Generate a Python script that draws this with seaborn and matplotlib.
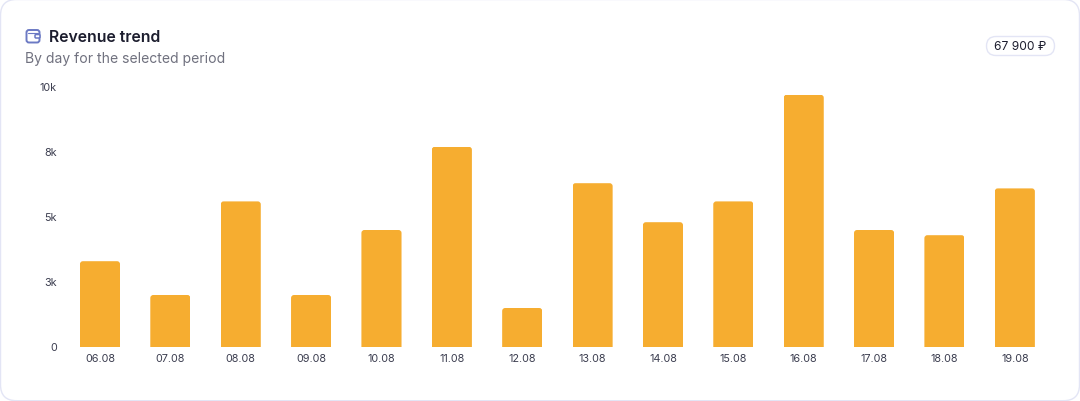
import matplotlib
matplotlib.use("Agg")
import matplotlib.pyplot as plt
import pandas as pd
import seaborn as sns
from matplotlib.patches import FancyBboxPatch, Rectangle
from matplotlib.transforms import ScaledTranslation

days = ["06.08", "07.08", "08.08", "09.08", "10.08", "11.08", "12.08",
        "13.08", "14.08", "15.08", "16.08", "17.08", "18.08", "19.08"]
revenue = [3300, 2000, 5600, 2000, 4500, 7700, 1500,
           6300, 4800, 5600, 9700, 4500, 4300, 6100]
y_ticks = [0, 2500, 5000, 7500, 10000]
y_labels = ["0", "3k", "5k", "8k", "10k"]

W, H = 1080, 402
BAR = "#f6ad30"
BORDER = "#e3e5f5"
INK = "#1c1d2e"
MUTED = "#70717f"
ICON = "#6c7ac4"

df = pd.DataFrame({"day": days, "revenue": revenue})

sns.set_theme(style="white")
plt.rcParams["font.family"] = ["Inter", "DejaVu Sans"]

fig = plt.figure(figsize=(W / 100, H / 100), dpi=100, facecolor="white")


def fx(px):
    return px / W


def fy(px):
    return 1 - px / H


# card behind everything
bg = fig.add_axes([0, 0, 1, 1], zorder=0)
bg.set_xlim(0, W)
bg.set_ylim(H, 0)
bg.axis("off")
bg.add_patch(FancyBboxPatch((0.5, 0.5), W - 1, H - 0.8,
                            boxstyle="round,pad=0,rounding_size=16",
                            fc="white", ec=BORDER, lw=1))

# wallet icon
bg.add_patch(FancyBboxPatch((26.5, 31), 13, 12.5,
                            boxstyle="round,pad=0,rounding_size=2.5",
                            fc="none", ec=ICON, lw=1.4))
bg.plot([27.5, 37.5], [33.5, 33.5], color=ICON, lw=0.8)
bg.add_patch(FancyBboxPatch((35, 35.5), 5, 3.5,
                            boxstyle="round,pad=0,rounding_size=1",
                            fc="white", ec=ICON, lw=1.1))

# total pill
bg.add_patch(FancyBboxPatch((986.5, 37.5), 68, 19,
                            boxstyle="round,pad=0,rounding_size=9.5",
                            fc="white", ec=BORDER, lw=1))

# plot area
ax = fig.add_axes([fx(64.8), fy(348), (1050 - 64.8) / W, 260 / H], zorder=1)
ax.patch.set_alpha(0)
sns.barplot(data=df, x="day", y="revenue", color=BAR, saturation=1,
            width=0.57, ax=ax)
ax.set_xlim(-0.5, len(days) - 0.5)
ax.set_ylim(0, 10000)
ax.set_xlabel("")
ax.set_ylabel("")
ax.set_yticks(y_ticks, y_labels)
ax.tick_params(axis="both", length=0, labelsize=7.8, labelcolor="#3b3d4f")
ax.tick_params(axis="x", pad=4.2)
ax.tick_params(axis="y", pad=5.6)
sns.despine(ax=ax, left=True, bottom=True)

# y labels sit a pixel above their gridline position
nudge = ScaledTranslation(0, 1 / 100, fig.dpi_scale_trans)
for lab in ax.get_yticklabels():
    lab.set_transform(lab.get_transform() + nudge)

# round the top corners of the bars
aspect = (10000 / 260) / (len(days) / (1050 - 64.8))
for bar in ax.patches:
    if not isinstance(bar, Rectangle):
        continue
    bar.set_linewidth(0)
    clip = FancyBboxPatch((bar.get_x(), -1000), bar.get_width(), bar.get_height() + 1000,
                          boxstyle=f"round,pad=0,rounding_size={3 / 70.37:.4f}",
                          mutation_aspect=aspect, transform=ax.transData)
    bar.set_clip_path(clip)

fig.text(fx(49), fy(37), "Revenue trend", fontsize=11.4, fontweight="semibold",
         color=INK, va="center", ha="left")
fig.text(fx(25), fy(59.5), "By day for the selected period", fontsize=10.05,
         color=MUTED, va="center", ha="left")
fig.text(fx(1020.5), fy(46.5), "67 900 ₽", fontsize=8.6, color=INK,
         va="center", ha="center")

fig.savefig("out.png", dpi=100)
